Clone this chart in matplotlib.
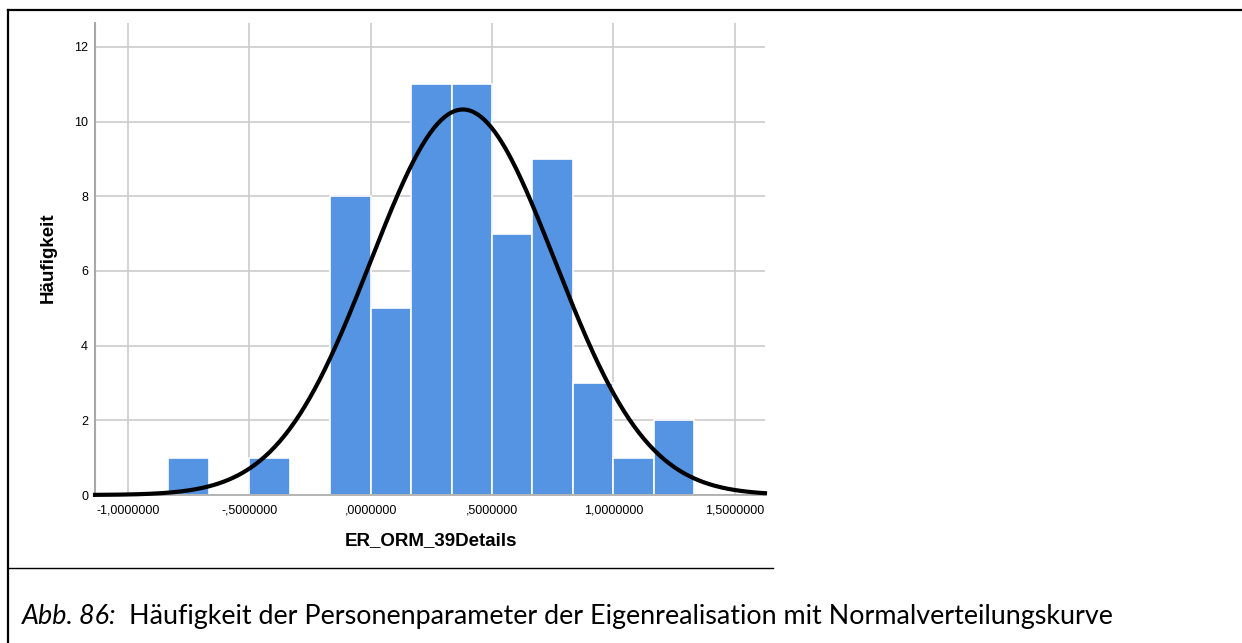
import matplotlib.pyplot as plt
import numpy as np
from matplotlib.lines import Line2D

# histogram bins (width 1/6) and counts
bin_edges = [-5/6, -4/6, -3/6, -2/6, -1/6, 0, 1/6, 2/6, 3/6, 4/6, 5/6, 1.0, 7/6, 8/6]
counts = [1, 0, 1, 0, 8, 5, 11, 11, 7, 9, 3, 1, 2]
n_total = 59
mean_val = 0.38
sd_val = 0.38

xticks = [-1.0, -0.5, 0.0, 0.5, 1.0, 1.5]
xtick_labels = ["-1,0000000", "-,5000000", ",0000000", ",5000000", "1,0000000", "1,5000000"]
yticks = [0, 2, 4, 6, 8, 10, 12]

W, H = 1242, 643
fig = plt.figure(figsize=(W / 100, H / 100), dpi=100)
ax = fig.add_axes([95 / W, 1 - 495 / H, (765 - 95) / W, (495 - 23) / H])

ax.set_xlim(-1.136, 1.625)
ax.set_ylim(0, 12.64)

widths = np.diff(bin_edges)
ax.bar(bin_edges[:-1], counts, width=widths, align="edge", color="#5593e3",
       edgecolor="white", linewidth=1.2, zorder=2)

xs = np.linspace(-1.136, 1.625, 400)
bw = bin_edges[1] - bin_edges[0]
ys = n_total * bw / (sd_val * np.sqrt(2 * np.pi)) * np.exp(-0.5 * ((xs - mean_val) / sd_val) ** 2)
ax.plot(xs, ys, color="black", linewidth=3.0, zorder=3, clip_on=False)

ax.set_xticks(xticks)
ax.set_xticklabels(xtick_labels)
ax.set_yticks(yticks)
ax.grid(True, color="#cccccc", linewidth=1.2, zorder=0)
ax.set_axisbelow(True)
ax.tick_params(length=0, labelsize=9, colors="black")
ax.tick_params(axis="x", pad=7)
ax.tick_params(axis="y", pad=5)
for lbl in ax.get_xticklabels() + ax.get_yticklabels():
    lbl.set_fontfamily("Liberation Sans")
for s in ["top", "right"]:
    ax.spines[s].set_visible(False)
ax.spines["left"].set_color("#a8a8a8")
ax.spines["left"].set_linewidth(1.5)
ax.spines["bottom"].set_color("#a8a8a8")
ax.spines["bottom"].set_linewidth(1.2)

ax.set_ylabel("Häufigkeit", fontsize=13.5, fontweight="bold", family="Liberation Sans", va="center")
ax.set_xlabel("ER_ORM_39Details", fontsize=13.5, fontweight="bold", family="Liberation Sans", va="baseline")
ax.yaxis.set_label_coords((48 - 95) / 670, (495 - 258) / 472)
ax.xaxis.set_label_coords((431 - 95) / 670, (495 - 545) / 472)

# outer frame and caption
fig.add_artist(Line2D([8 / W, 1.0], [1 - 10 / H, 1 - 10 / H], color="black", linewidth=1.6))
fig.add_artist(Line2D([8 / W, 8 / W], [0, 1 - 10 / H], color="black", linewidth=1.6))
fig.add_artist(Line2D([8 / W, 773 / W], [1 - 568 / H, 1 - 568 / H], color="black", linewidth=1.0))

fig.text(22 / W, 1 - 624 / H, "Abb. 86:", fontsize=19.4, style="italic", family="Lato", va="baseline")
fig.text(129 / W, 1 - 624 / H, "Häufigkeit der Personenparameter der Eigenrealisation mit Normalverteilungskurve",
         fontsize=19.4, family="Lato", va="baseline")

fig.savefig("out.png", dpi=100)
